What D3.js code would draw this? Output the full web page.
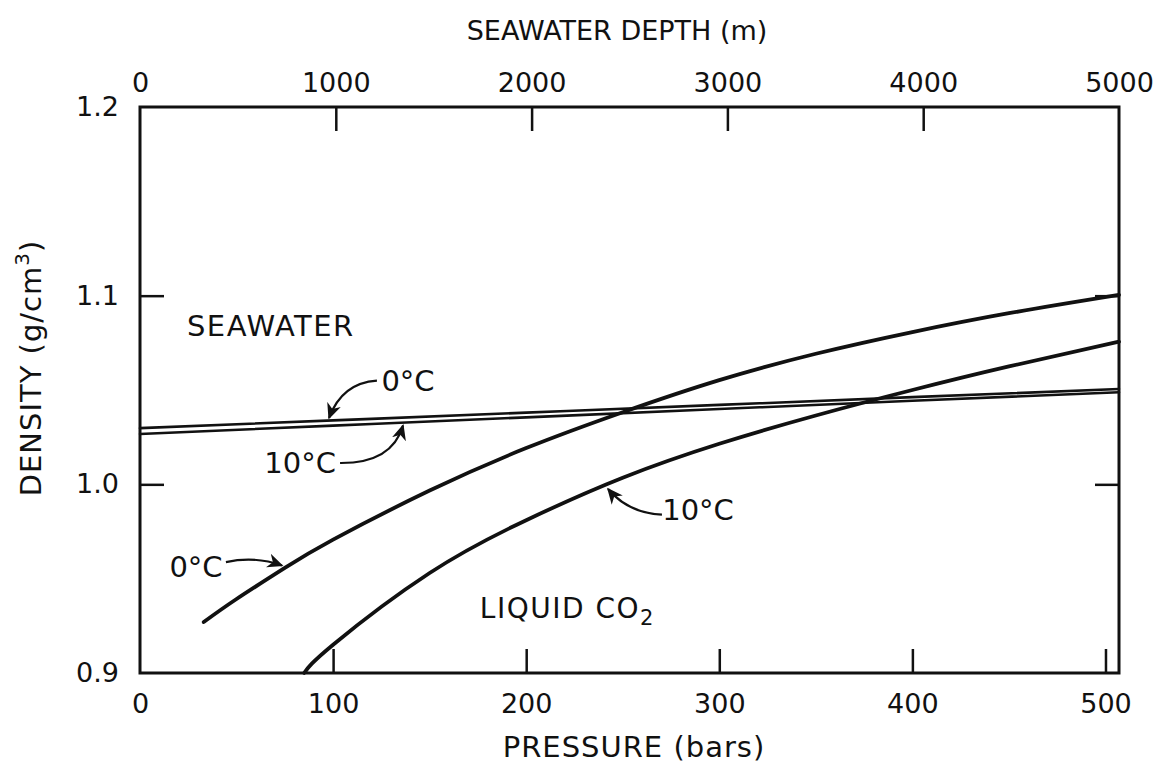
<!DOCTYPE html>
<html>
<head>
<meta charset="utf-8">
<script src="https://cdn.jsdelivr.net/npm/d3@7"></script>
<style>
	body { margin: 0; background: #fff; }
	text { font-family: "DejaVu Sans", sans-serif; fill: #111; }
</style>
</head>
<body>
<div id="chart-area"></div>
<script>
/* Data (pressure in bars, density in g/cm3) */
const co2ZeroPressure = [33, 50, 75, 100, 150, 200, 250, 300, 350, 400, 450, 507]
const co2ZeroDensity = [0.927, 0.9392, 0.9557, 0.9707, 0.9967, 1.0192, 1.0382, 1.0552, 1.0692, 1.0807, 1.0907, 1.1004]

const co2TenPressure = [85, 100, 150, 200, 250, 300, 350, 400, 450, 507]
const co2TenDensity = [0.900, 0.915, 0.953, 0.981, 1.0035, 1.0215, 1.0365, 1.050, 1.0625, 1.0756]

const seaPressure = [0, 100, 200, 300, 400, 507]
const seaZeroDensity = [1.0298, 1.0339, 1.0380, 1.0421, 1.0462, 1.0505]
const seaTenDensity = [1.0267, 1.0311, 1.0355, 1.0399, 1.0443, 1.0488]

const pressureTicks = [0, 100, 200, 300, 400, 500]
const depthTicks = [0, 1000, 2000, 3000, 4000, 5000]
const densityTicks = [0.9, 1.0, 1.1, 1.2]

// annotation labels and arrows, in data units [pressure, density]
const tempLabels = [
	{ text: '0°C', at: [138.8, 1.0551], arrow: [[122.7, 1.0550], [104.6, 1.0538], [97.9, 1.0352]] },
	{ text: '10°C', at: [82.9, 1.0116], arrow: [[103.6, 1.0113], [130.5, 1.0111], [136.2, 1.0312]] },
	{ text: '0°C', at: [29.0, 0.9565], arrow: [[44.5, 0.9588], [59.6, 0.9621], [73.5, 0.9570]] },
	{ text: '10°C', at: [289, 0.9867], arrow: [[270.3, 0.9839], [252.7, 0.9848], [242.4, 0.9975]] },
]

/* Canvas */
const CANVAS_WIDTH = 1172
const CANVAS_HEIGHT = 766
const margin = { top: 107, bottom: 93, left: 140, right: 53 }
const width = CANVAS_WIDTH - margin.left - margin.right
const height = CANVAS_HEIGHT - margin.top - margin.bottom

const $svg = d3.select('#chart-area')
	.append('svg')
	.attr('width', CANVAS_WIDTH)
	.attr('height', CANVAS_HEIGHT)

$svg.append('defs').append('marker')
	.attr('id', 'head')
	.attr('viewBox', '0 -5 10 10')
	.attr('refX', 9)
	.attr('refY', 0)
	.attr('markerUnits', 'userSpaceOnUse')
	.attr('markerWidth', 16)
	.attr('markerHeight', 16)
	.attr('orient', 'auto')
	.append('path')
	.attr('d', 'M0,-4.5L10,0L0,4.5L3,0Z')
	.attr('fill', '#111')

const $scene = $svg.append('g')
	.attr('transform', `translate(${margin.left}, ${margin.top})`)

/* Scales */
const xScale = d3.scaleLinear().domain([0, 507]).range([0, width])
const depthScale = d3.scaleLinear().domain([0, 5000]).range([0, width])
const yScale = d3.scaleLinear().domain([0.9, 1.2]).range([height, 0])

/* Axes */
const fontSize = 27
function styleAxis($g, hideTicks) {
	$g.select('.domain').remove()
	$g.attr('font-family', '"DejaVu Sans", sans-serif').attr('font-size', fontSize)
	$g.selectAll('.tick line').attr('stroke', '#111').attr('stroke-width', 2.5)
	$g.selectAll('.tick line').filter(d => hideTicks.includes(d)).remove()
}

const $xAxis = $scene.append('g')
	.attr('transform', `translate(0, ${height})`)
	.call(d3.axisBottom(xScale).tickValues(pressureTicks).tickSizeInner(-24).tickSizeOuter(0).tickPadding(21))
styleAxis($xAxis, [0])

const $topAxis = $scene.append('g')
	.call(d3.axisTop(depthScale).tickValues(depthTicks).tickFormat(d3.format('d')).tickSizeInner(-24).tickSizeOuter(0).tickPadding(15))
styleAxis($topAxis, [0, 5000])

const $yAxis = $scene.append('g')
	.call(d3.axisLeft(yScale).tickValues(densityTicks).tickFormat(d3.format('.1f')).tickSizeInner(-24).tickSizeOuter(0).tickPadding(21))
styleAxis($yAxis, [0.9, 1.2])

const $rightAxis = $scene.append('g')
	.attr('transform', `translate(${width}, 0)`)
	.call(d3.axisRight(yScale).tickValues([1.0, 1.1]).tickFormat('').tickSizeInner(-24).tickSizeOuter(0))
styleAxis($rightAxis, [])

/* Frame */
$scene.append('rect')
	.attr('width', width)
	.attr('height', height)
	.attr('fill', 'none')
	.attr('stroke', '#111')
	.attr('stroke-width', 3)

/* Curves */
const line = d3.line()
	.x(d => xScale(d[0]))
	.y(d => yScale(d[1]))
	.curve(d3.curveNatural)

const series = [
	{ p: seaPressure, d: seaZeroDensity, w: 2.6 },
	{ p: seaPressure, d: seaTenDensity, w: 2.6 },
	{ p: co2ZeroPressure, d: co2ZeroDensity, w: 3.8 },
	{ p: co2TenPressure, d: co2TenDensity, w: 3.8 },
]

series.forEach(s => {
	$scene.append('path')
		.datum(s.p.map((p, i) => [p, s.d[i]]))
		.attr('d', line)
		.attr('fill', 'none')
		.attr('stroke', '#111')
		.attr('stroke-width', s.w)
		.attr('stroke-linecap', 'round')
})

/* Temperature labels with curved arrows */
tempLabels.forEach(l => {
	$scene.append('text')
		.attr('x', xScale(l.at[0]))
		.attr('y', yScale(l.at[1]))
		.attr('dy', '0.36em')
		.attr('text-anchor', 'middle')
		.attr('font-size', 29)
		.text(l.text)

	const [a, c, b] = l.arrow.map(d => [xScale(d[0]), yScale(d[1])])
	$scene.append('path')
		.attr('d', `M${a[0]},${a[1]} Q${c[0]},${c[1]} ${b[0]},${b[1]}`)
		.attr('fill', 'none')
		.attr('stroke', '#111')
		.attr('stroke-width', 2.2)
		.attr('marker-end', 'url(#head)')
})

/* Region labels */
$scene.append('text')
	.attr('x', xScale(24.3))
	.attr('y', yScale(1.0844))
	.attr('dy', '0.36em')
	.attr('font-size', 29)
	.attr('letter-spacing', 1.5)
	.text('SEAWATER')

const $liquid = $scene.append('text')
	.attr('x', xScale(176))
	.attr('y', yScale(0.9347))
	.attr('dy', '0.36em')
	.attr('font-size', 28)
	.attr('letter-spacing', 1.5)
	.text('LIQUID CO')
$liquid.append('tspan')
	.attr('dy', 7)
	.attr('font-size', 21)
	.text('2')

/* Axis titles */
$svg.append('text')
	.attr('x', 617)
	.attr('y', 30)
	.attr('dy', '0.36em')
	.attr('text-anchor', 'middle')
	.attr('font-size', 27)
	.text('SEAWATER DEPTH (m)')

$svg.append('text')
	.attr('x', 634)
	.attr('y', 747)
	.attr('dy', '0.36em')
	.attr('text-anchor', 'middle')
	.attr('font-size', 29)
	.attr('letter-spacing', 1)
	.text('PRESSURE (bars)')

const $yTitle = $svg.append('text')
	.attr('transform', 'translate(31, 368) rotate(-90)')
	.attr('dy', '0.36em')
	.attr('text-anchor', 'middle')
	.attr('font-size', 29)
	.attr('letter-spacing', 1)
	.text('DENSITY (g/cm')
$yTitle.append('tspan').attr('dy', -12).attr('font-size', 20).text('3')
$yTitle.append('tspan').attr('dy', 12).text(')')
</script>
</body>
</html>
